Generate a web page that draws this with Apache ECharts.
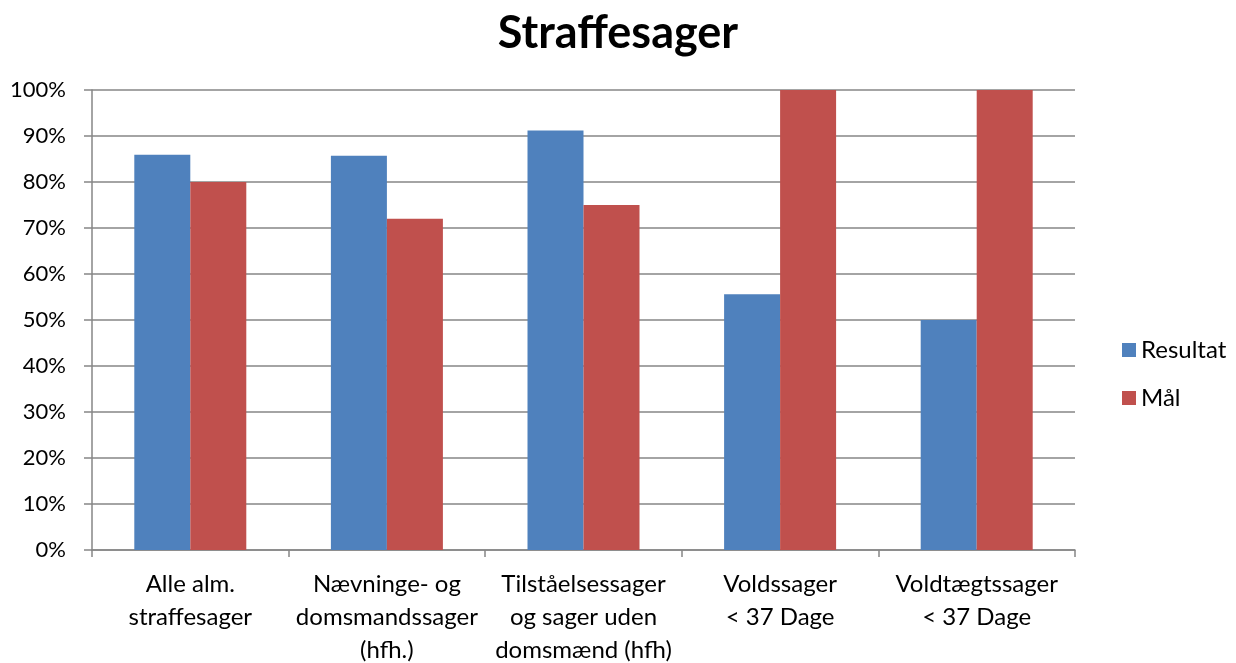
<!DOCTYPE html>
<html>
<head>
<meta charset="utf-8">
<script src="https://cdn.jsdelivr.net/npm/echarts@6/dist/echarts.min.js"></script>
<style>
  html, body { margin: 0; padding: 0; background: #fff; }
  #chart { width: 1236px; height: 663px; }
</style>
</head>
<body>
<div id="chart"></div>
<script>
// data
var categories = [
  'Alle alm.\nstraffesager',
  'Nævninge- og\ndomsmandssager\n(hfh.)',
  'Tilståelsessager\nog sager uden\ndomsmænd (hfh)',
  'Voldssager\n< 37 Dage',
  'Voldtægtssager\n< 37 Dage'
]
var resultat = [85.9, 85.7, 91.2, 55.6, 50]
var maal = [80, 72, 75, 100, 100]

var fontName = 'Lato'
var chart = echarts.init(document.getElementById('chart'))

var option = {
  animation: false,
  color: ['#4F81BD', '#C0504D'],
  title: {
    text: 'Straffesager',
    left: 'center',
    top: 6,
    textStyle: {
      fontFamily: fontName,
      fontSize: 45,
      fontWeight: 'bold',
      color: '#000'
    }
  },
  legend: {
    orient: 'vertical',
    left: 1117,
    top: 333,
    itemWidth: 14,
    itemHeight: 14,
    itemGap: 24,
    icon: 'rect',
    textStyle: {
      fontFamily: fontName,
      fontSize: 24,
      color: '#000'
    },
    data: ['Resultat', 'Mål']
  },
  grid: {
    left: 92,
    right: 161,
    top: 90,
    bottom: 113,
    containLabel: false,
    outerBoundsMode: 'none'
  },
  xAxis: {
    type: 'category',
    data: categories,
    axisLine: { lineStyle: { color: '#868686', width: 1.5 } },
    axisTick: { show: true, length: 7, lineStyle: { color: '#868686', width: 1.5 } },
    axisLabel: {
      interval: 0,
      margin: 18,
      fontFamily: fontName,
      fontSize: 24,
      lineHeight: 33,
      color: '#000'
    }
  },
  yAxis: {
    type: 'value',
    min: 0,
    max: 100,
    interval: 10,
    axisLine: { show: true, lineStyle: { color: '#868686', width: 1.5 } },
    axisTick: { show: true, length: 8, lineStyle: { color: '#868686', width: 1.5 } },
    splitLine: { lineStyle: { color: '#868686', width: 1.5 } },
    axisLabel: {
      formatter: '{value}%',
      margin: 26,
      fontFamily: fontName,
      fontSize: 22,
      color: '#000'
    }
  },
  series: [{
    name: 'Resultat',
    type: 'bar',
    barWidth: 56,
    barGap: '0%',
    data: resultat
  }, {
    name: 'Mål',
    type: 'bar',
    barWidth: 56,
    barGap: '0%',
    data: maal
  }]
}
chart.setOption(option)
</script>
</body>
</html>
